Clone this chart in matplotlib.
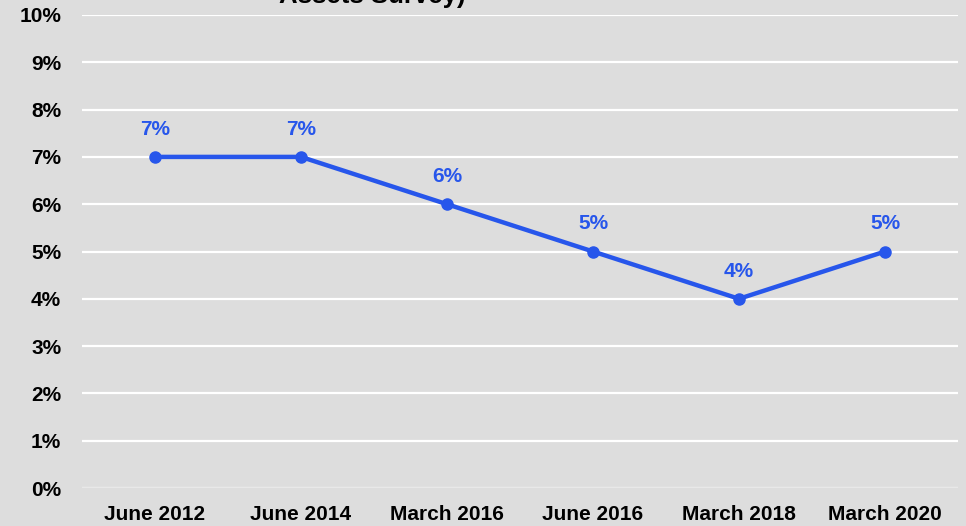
import numpy as np
import matplotlib
matplotlib.use('Agg')
import matplotlib.pyplot as plt
from matplotlib.ticker import PercentFormatter

# survey dates and share values
dates = ['June 2012', 'June 2014', 'March 2016', 'June 2016', 'March 2018', 'March 2020']
share = [0.07, 0.07, 0.06, 0.05, 0.04, 0.05]
labels = ['7%', '7%', '6%', '5%', '4%', '5%']
y_ticks = [i / 100 for i in range(0, 11)]

BG = '#dddddd'
BLUE = '#2756eb'

plt.rcParams['font.family'] = ['Liberation Sans', 'DejaVu Sans']
plt.rcParams['font.weight'] = 'bold'

fig = plt.figure(figsize=(9.66, 5.26), dpi=100, facecolor=BG)
ax = fig.add_axes([82/966, 1 - 488/526, 876/966, 473/526])
ax.set_facecolor(BG)

x = np.arange(len(dates))
ax.plot(x, share, color=BLUE, lw=3.2, marker='o', ms=8, zorder=3)
for xi, yi, lab in zip(x, share, labels):
    ax.annotate(lab, (xi, yi), xytext=(0, 13), textcoords='offset points',
                ha='center', va='bottom', color=BLUE, fontsize=15,
                fontweight='bold')

ax.set_xlim(-0.5, len(dates) - 0.5)
ax.set_ylim(0, 0.10)
ax.set_yticks(y_ticks)
ax.yaxis.set_major_formatter(PercentFormatter(1.0, decimals=0))
ax.set_xticks(x)
ax.set_xticklabels(dates)
ax.tick_params(axis='both', length=0, labelsize=15, labelcolor='black')
ax.tick_params(axis='x', pad=12)
ax.tick_params(axis='y', pad=15)
for lab in ax.get_xticklabels() + ax.get_yticklabels():
    lab.set_fontweight('bold')

ax.grid(axis='y', color='white', lw=1.6)
ax.set_axisbelow(True)
for s in ax.spines.values():
    s.set_visible(False)
ax.axhline(0, color='#e8e8e8', lw=1.5, zorder=1)

# title, mostly cut off by the top edge (as in the source image)
fig.text(372/966, 1 - 3/526, 'Assets Survey)', ha='center', va='baseline',
         fontsize=18.5, fontweight='bold', color='black')

fig.savefig('out.png', dpi=100, facecolor=BG)
